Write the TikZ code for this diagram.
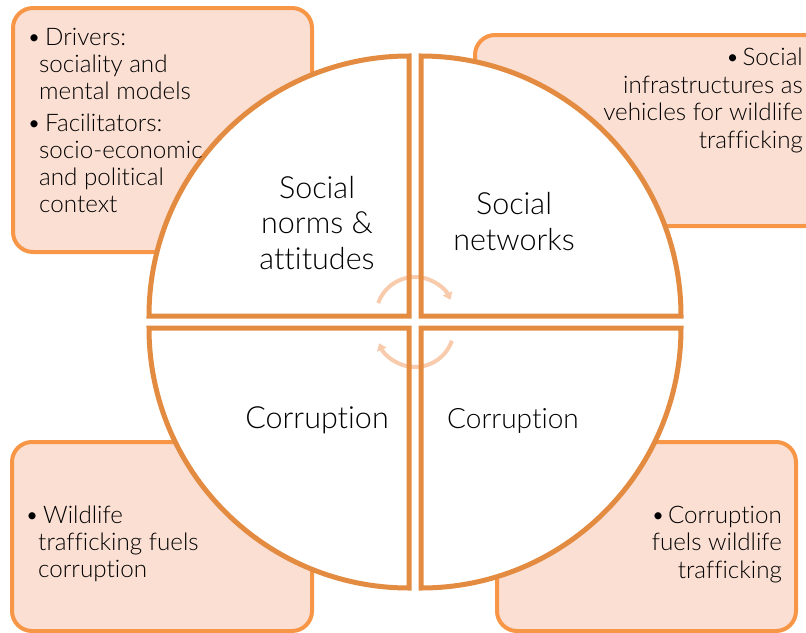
\documentclass[tikz,border=0pt]{standalone}
\usepackage{fontspec}
\setmainfont{Lato}[Ligatures=NoCommon,UprightFont={* Light}]
\usetikzlibrary{arrows.meta}
\definecolor{boxline}{HTML}{F79646}
\definecolor{boxfill}{HTML}{FBDFD3}
\definecolor{quadline}{HTML}{E38B41}
\definecolor{arcc}{HTML}{F8CBAD}
\begin{document}
\begin{tikzpicture}[x=1pt,y=-1pt,
  infobox/.style={draw=boxline,fill=boxfill,line width=4pt,rounded corners=20pt},
  quadfill/.style={fill=white},
  quadedge/.style={draw=quadline,line width=5pt,line join=miter},
  cyclearc/.style={draw=arcc,line width=4pt,-{Triangle[length=7pt,width=10pt]}},
  bigtxt/.style={inner sep=0pt,align=center,anchor=base,font=\fontsize{30.5}{35.5}\selectfont},
  lefttxt/.style={inner sep=0pt,align=left,anchor=base west,font=\fontsize{24.2}{27}\selectfont},
  righttxt/.style={inner sep=0pt,align=right,anchor=base east,font=\fontsize{24.2}{27.5}\selectfont}]
\useasboundingbox (0,0) rectangle (806,632);
\clip (0,0) rectangle (806,632);
% boxes
\draw[infobox] (13,8) rectangle (312,252);
\draw[infobox] (475,35) rectangle (824,226);
\draw[infobox] (12,442) rectangle (312,631);
\draw[infobox] (497,442) rectangle (796,631);
% quadrant fills
\path[quadfill] (409,316) -- (149,316) arc[start angle=180,end angle=270,radius=260] -- cycle;
\path[quadfill] (421,316) -- (421,56) arc[start angle=270,end angle=360,radius=260] -- cycle;
\path[quadfill] (409,328) -- (409,588) arc[start angle=90,end angle=180,radius=260] -- cycle;
\path[quadfill] (421,328) -- (681,328) arc[start angle=0,end angle=90,radius=260] -- cycle;
% cycle arcs
\coordinate (ctop) at (415,316);
\coordinate (cbot) at (415,328);
\draw[cyclearc] ([shift={(199.4:39)}]ctop) arc[start angle=199.4,end angle=335.4,radius=39];
\draw[cyclearc] ([shift={(19:39)}]cbot) arc[start angle=19,end angle=157,radius=39];
% quadrant outlines
\path[quadedge] (409,316) -- (149,316) arc[start angle=180,end angle=270,radius=260] -- cycle;
\path[quadedge] (421,316) -- (421,56) arc[start angle=270,end angle=360,radius=260] -- cycle;
\path[quadedge] (409,328) -- (409,588) arc[start angle=90,end angle=180,radius=260] -- cycle;
\path[quadedge] (421,328) -- (681,328) arc[start angle=0,end angle=90,radius=260] -- cycle;
% circle labels (base anchor = last line)
\node[bigtxt] (norms) at (317,269) {Social\\norms \&\\attitudes};
\node[bigtxt] (networks) at (514,250) {Social\\networks};
\node[bigtxt] (corrL) at (317,428) {Corruption};
\node[bigtxt,font=\fontsize{28}{33}\selectfont] (corrR) at (513,428) {Corruption};
% box texts
\node[lefttxt] (drivers) at (39,212) {\hspace{6pt}\llap{\textbullet\hspace{4pt}}Drivers:\\sociality and\\mental models\\[5pt]\hspace{6pt}\llap{\textbullet\hspace{4pt}}Facilitators:\\socio-economic\\and political\\context};
\node[righttxt] (infra) at (803,148) {\textbullet\hspace{3pt}Social\\infrastructures as\\vehicles for wildlife\\trafficking};
\node[lefttxt] (wtfc) at (38,577) {\hspace{5pt}\llap{\textbullet\hspace{4pt}}Wildlife\\trafficking fuels\\corruption};
\node[righttxt] (cfwt) at (782,578) {\textbullet\hspace{3pt}Corruption\\fuels wildlife\\trafficking};
\end{tikzpicture}
\end{document}
